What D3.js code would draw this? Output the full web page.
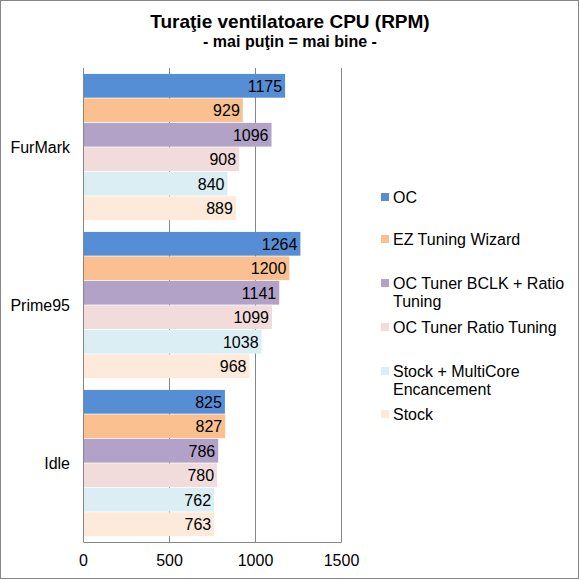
<!DOCTYPE html>
<head>
  <meta charset="utf-8" />
  <script src="https://cdn.jsdelivr.net/npm/d3@7/dist/d3.min.js"></script>
  <style>
    body {
      margin: 0;
      background: #fff;
    }
    text {
      font-family: "Liberation Sans", Arial, sans-serif;
      fill: #000;
    }
  </style>
</head>

<body>
  <script>
    // categories top to bottom, series in legend order
    var categories = ["FurMark", "Prime95", "Idle"];
    var seriesNames = [
      "OC",
      "EZ Tuning Wizard",
      "OC Tuner BCLK + Ratio Tuning",
      "OC Tuner Ratio Tuning",
      "Stock + MultiCore Encancement",
      "Stock"
    ];
    var furmark = [1175, 929, 1096, 908, 840, 889];
    var prime95 = [1264, 1200, 1141, 1099, 1038, 968];
    var idle = [825, 827, 786, 780, 762, 763];
    var colors = ["#558ed5", "#fac090", "#b3a2c7", "#f2dcdb", "#dbeef4", "#fdeada"];
    var ticks = [0, 500, 1000, 1500];
    // legend lines (wrapped like the original)
    var legendLines = [
      ["OC"],
      ["EZ Tuning Wizard"],
      ["OC Tuner BCLK + Ratio", "Tuning"],
      ["OC Tuner Ratio Tuning"],
      ["Stock + MultiCore", "Encancement"],
      ["Stock"]
    ];

    var rows = [furmark, prime95, idle];

    var W = 580, H = 580;
    var plot = { left: 83, right: 341, top: 68, bottom: 542 };

    var svg = d3.select("body").append("svg")
      .attr("width", W).attr("height", H);

    svg.append("rect")
      .attr("x", 0.5).attr("y", 0.5)
      .attr("width", W - 2).attr("height", H - 2)
      .attr("fill", "#fff").attr("stroke", "#868686");

    svg.append("text")
      .attr("x", 290).attr("y", 28)
      .attr("text-anchor", "middle")
      .style("font-size", "19px").style("font-weight", "bold")
      .text("Turaţie ventilatoare CPU (RPM)");
    svg.append("text")
      .attr("x", 290).attr("y", 47)
      .attr("text-anchor", "middle")
      .style("font-size", "16px").style("font-weight", "bold")
      .text("- mai puţin = mai bine -");

    var x = d3.scaleLinear().domain([0, 1500]).range([plot.left, plot.right]);
    var y0 = d3.scaleBand().domain(categories)
      .range([plot.top, plot.bottom]).paddingInner(0.075).paddingOuter(0.0375);
    var y1 = d3.scaleBand().domain(d3.range(seriesNames.length))
      .range([0, y0.bandwidth()]).paddingInner(0.03);

    // gridlines
    svg.append("g").selectAll("line")
      .data(ticks.slice(1))
      .enter().append("line")
      .attr("x1", d => x(d) + 0.5).attr("x2", d => x(d) + 0.5)
      .attr("y1", plot.top).attr("y2", plot.bottom)
      .attr("stroke", "#868686");

    var groups = svg.append("g").selectAll("g")
      .data(categories)
      .enter().append("g")
      .attr("transform", d => "translate(0," + y0(d) + ")");

    groups.selectAll("rect")
      .data((d, i) => rows[i].map((v, j) => ({ v: v, j: j })))
      .enter().append("rect")
      .attr("x", x(0))
      .attr("y", d => y1(d.j))
      .attr("width", d => x(d.v) - x(0))
      .attr("height", y1.bandwidth())
      .attr("fill", d => colors[d.j]);

    groups.selectAll("text")
      .data((d, i) => rows[i].map((v, j) => ({ v: v, j: j })))
      .enter().append("text")
      .attr("x", d => x(d.v) - 3)
      .attr("y", d => y1(d.j) + y1.bandwidth() / 2 + 6)
      .attr("text-anchor", "end")
      .style("font-size", "16px")
      .text(d => d.v);

    // axes
    var xAxis = svg.append("g")
      .attr("transform", "translate(0," + plot.bottom + ")")
      .call(d3.axisBottom(x).tickValues(ticks).tickFormat(d3.format("d"))
        .tickSize(0).tickPadding(12.5));
    xAxis.select(".domain").attr("stroke", "#868686");
    xAxis.selectAll("text").style("font-size", "16px")
      .style("font-family", "'Liberation Sans', Arial, sans-serif");

    svg.append("line")
      .attr("x1", plot.left + 0.5).attr("x2", plot.left + 0.5)
      .attr("y1", plot.top).attr("y2", plot.bottom)
      .attr("stroke", "#868686");

    svg.append("g").selectAll("text")
      .data(categories)
      .enter().append("text")
      .attr("x", 70)
      .attr("y", d => y0(d) + y0.bandwidth() / 2 + 6)
      .attr("text-anchor", "end")
      .style("font-size", "16px")
      .text(d => d);

    // legend (baselines of first lines)
    var legendY = [203, 245, 289, 333, 377, 420];
    var leg = svg.append("g").selectAll("g")
      .data(seriesNames)
      .enter().append("g")
      .attr("transform", (d, i) => "translate(381," + legendY[i] + ")");
    leg.append("rect")
      .attr("x", 0).attr("y", -10)
      .attr("width", 8).attr("height", 8)
      .attr("fill", (d, i) => colors[i]);
    leg.append("text")
      .style("font-size", "16px")
      .selectAll("tspan")
      .data((d, i) => legendLines[i])
      .enter().append("tspan")
      .attr("x", 12)
      .attr("dy", (d, k) => (k === 0 ? 0 : 18))
      .text(d => d);
  </script>
</body>
